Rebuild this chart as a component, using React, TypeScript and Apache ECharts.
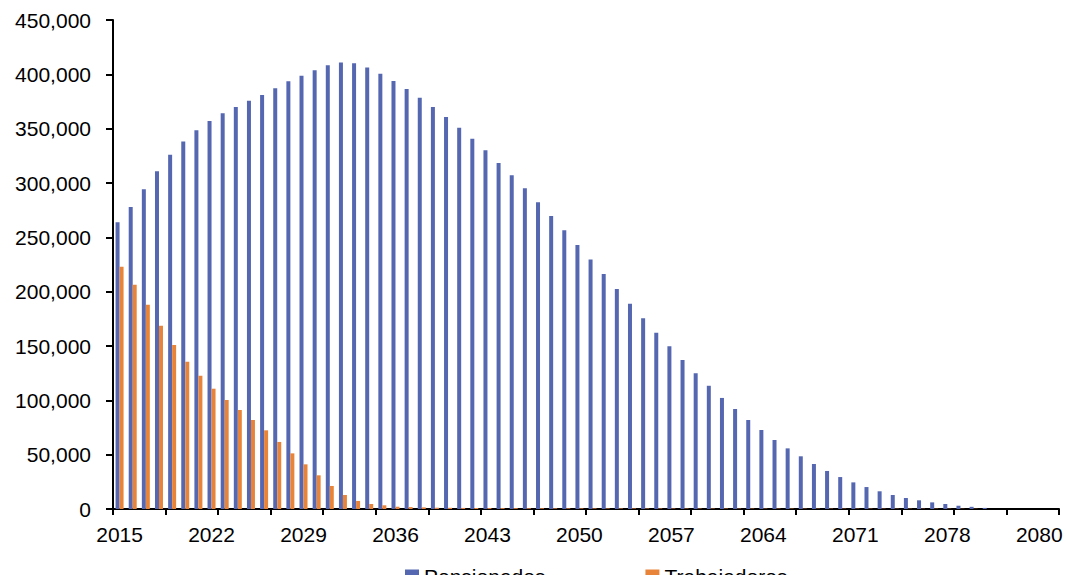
import React, { useEffect, useRef } from "react";
import * as echarts from "echarts";

const years: string[] = [];
for (let y = 2015; y <= 2086; y++) years.push(String(y));

const labelPositions = [0, 7, 14, 21, 28, 35, 42, 49, 56, 63, 70];
const tickLabels = ["2015", "2022", "2029", "2036", "2043", "2050", "2057", "2064", "2071", "2078", "2080"];

const seriesNames = ["Pensionados", "Trabajadores"];

const pensionados = [
  263800, 277900, 294200, 310700, 326000, 338300, 348500, 357000, 364100, 369900,
  375700, 381000, 387100, 393600, 398700, 403700, 408300, 411000, 410100, 406400,
  400600, 393800, 386500, 378500, 369900, 360700, 350900, 340800, 330100, 318400,
  307100, 295100, 282200, 269600, 256500, 242900, 229700, 216200, 202400, 188900,
  175500, 162200, 149700, 137100, 124900, 113400, 102200, 92000, 81900, 72700,
  63500, 55800, 48500, 41400, 35000, 29400, 24500, 20200, 16300, 12900,
  10100, 8000, 6100, 4600, 3000, 2000, 1000, 0, 0, 0,
  0, 0,
];

const trabajadores = [
  223000, 206400, 188000, 168700, 150900, 135600, 122700, 110700, 100300, 91100,
  81900, 72400, 61700, 51200, 41100, 31000, 21200, 12900, 7400, 4600,
  3400, 2100, 1800, 1500, 1200, 1100, 1000, 900, 850, 800,
  750, 700, 650, 600, 600, 550, 550, 500, 500, 500,
  450, 450, 450, 400, 400, 400, 400, 350, 350, 350,
  350, 350, 300, 300, 300, 300, 300, 300, 300, 250,
  250, 250, 250, 250, 200, 200, 0, 0, 0, 0,
  0, 0,
];

const FONT = "'Liberation Sans', Arial, Helvetica, sans-serif";

export default function App() {
  const ref = useRef<HTMLDivElement>(null);
  useEffect(() => {
    if (!ref.current) return;
    const chart = echarts.init(ref.current, null, { renderer: "svg" });
    chart.setOption({
      animation: false,
      backgroundColor: "#ffffff",
      textStyle: { fontFamily: FONT },
      grid: { left: 113, right: 7, top: 20, bottom: 66, containLabel: false },
      legend: {
        left: 400,
        top: 561,
        itemWidth: 14,
        itemHeight: 14,
        itemGap: 100,
        icon: "rect",
        textStyle: { fontSize: 21, color: "#000", fontFamily: FONT },
        data: seriesNames,
      },
      xAxis: {
        type: "category",
        data: years,
        boundaryGap: true,
        axisLine: { lineStyle: { color: "#000", width: 2 } },
        axisTick: {
          show: true,
          interval: 3,
          alignWithLabel: false,
          length: 6,
          lineStyle: { color: "#000", width: 2 },
        },
        axisLabel: {
          interval: (index: number) => labelPositions.includes(index),
          formatter: (_v: string, index: number) => {
            const k = labelPositions.indexOf(index);
            return k >= 0 ? tickLabels[k] : "";
          },
          color: "#000",
          fontSize: 21,
          fontFamily: FONT,
          margin: 15,
        },
        splitLine: { show: false },
      },
      yAxis: {
        type: "value",
        min: 0,
        max: 450000,
        interval: 50000,
        axisLine: { show: true, lineStyle: { color: "#000", width: 2 } },
        axisTick: { show: true, length: 7, lineStyle: { color: "#000", width: 2 } },
        axisLabel: {
          color: "#000",
          fontSize: 21,
          fontFamily: FONT,
          margin: 22,
          formatter: (v: number) => v.toLocaleString("en-US"),
        },
        splitLine: { show: false },
      },
      series: [
        {
          name: seriesNames[0],
          type: "bar",
          data: pensionados,
          barWidth: 4,
          barGap: "0%",
          itemStyle: { color: "#5567b0" },
        },
        {
          name: seriesNames[1],
          type: "bar",
          data: trabajadores,
          barWidth: 4,
          barGap: "0%",
          itemStyle: { color: "#e8843a" },
        },
      ],
    });
    return () => chart.dispose();
  }, []);
  return (
    <div
      ref={ref}
      style={{ position: "fixed", left: 0, top: 0, width: 1066, height: 575, background: "#fff" }}
    />
  );
}
